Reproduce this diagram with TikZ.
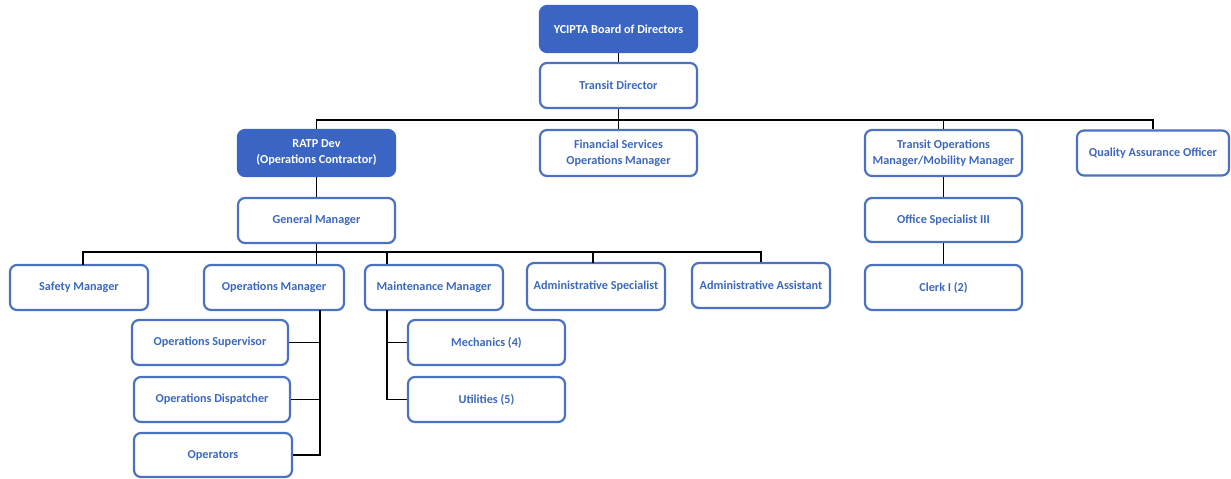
\documentclass[tikz,border=0pt]{standalone}
\usepackage{fontspec}
\setmainfont{Carlito}
\usepackage{xcolor}
\definecolor{boxblue}{HTML}{4A72C0}
\definecolor{headblue}{HTML}{3A65C3}
\definecolor{textblue}{HTML}{3C68BE}

\tikzset{
    unit/.style={draw=boxblue, line width=2.2pt, rounded corners=7pt, fill=white,
        text=textblue, font=\fontsize{12.2}{16}\selectfont\bfseries, align=center,
        inner sep=0pt},
    head/.style={unit, fill=headblue, draw=headblue, text=white},
    link/.style={line width=1.6pt, black}
}

\begin{document}
\begin{tikzpicture}[x=1pt, y=-1pt]
        \useasboundingbox (0,0) rectangle (1231,479);
        % top of the chart
        \node[head, minimum width=157, minimum height=46] (board) at (618.5,29) {YCIPTA Board of Directors};
        \node[unit, minimum width=157, minimum height=45] (director) at (618.5,85.5) {Transit Director};

        % second row
        \node[head, minimum width=157, minimum height=46] (ratp) at (316.5,153) {RATP Dev\\(Operations Contractor)};
        \node[unit, minimum width=157, minimum height=46] (finance) at (618.5,153) {Financial Services\\Operations Manager};
        \node[unit, minimum width=157, minimum height=46] (transitops) at (943.5,153) {Transit Operations\\Manager/Mobility Manager};
        \node[unit, minimum width=152, minimum height=45] (quality) at (1153,153) {Quality Assurance Officer};

        % contractor side
        \node[unit, minimum width=157, minimum height=45] (gm) at (316.5,220.5) {General Manager};
        \node[unit, minimum width=138, minimum height=45] (safety) at (79,287.5) {Safety Manager};
        \node[unit, minimum width=140, minimum height=45] (opsmgr) at (274,287.5) {Operations Manager};
        \node[unit, minimum width=138, minimum height=45] (maint) at (434,287.5) {Maintenance Manager};
        \node[unit, minimum width=138, minimum height=47] (adminspec) at (596,286.5) {Administrative Specialist};
        \node[unit, minimum width=138, minimum height=45] (adminasst) at (761,285.5) {Administrative Assistant};

        \node[unit, minimum width=156, minimum height=45] (supervisor) at (210,342.5) {Operations Supervisor};
        \node[unit, minimum width=156, minimum height=45] (dispatcher) at (212,399.5) {Operations Dispatcher};
        \node[unit, minimum width=158, minimum height=44] (operators) at (213,455) {Operators};
        \node[unit, minimum width=157, minimum height=45] (mechanics) at (486.5,342.5) {Mechanics (4)};
        \node[unit, minimum width=157, minimum height=45] (utilities) at (486.5,399.5) {Utilities (5)};

        % transit side
        \node[unit, minimum width=157, minimum height=44] (officespec) at (943.5,220) {Office Specialist III};
        \node[unit, minimum width=157, minimum height=45] (clerk) at (943.5,287.5) {Clerk I (2)};

        % bus lines
        \coordinate (bustop) at (618.5,120);
        \coordinate (busgm) at (316.5,252);
        \coordinate (safetydrop) at (83,265);
        \coordinate (specdrop) at (593,263);
        \coordinate (opsdrop) at (320,310);
        \coordinate (maintdrop) at (387,310);

        \draw[link] (board) -- (director);
        \draw[link] (director) -- (finance);
        \draw[link] (ratp.north) |- (bustop) -| (quality.north);
        \draw[link] (transitops.north) -- (transitops.north |- bustop);
        \draw[link] (ratp) -- (gm);
        \draw[link] (gm) -- (busgm);
        \draw[link] (safetydrop) |- (busgm) -| (adminasst.north);
        \draw[link] (busgm) -- (busgm |- opsmgr.north);
        \draw[link] (maintdrop |- maint.north) -- (maintdrop |- busgm);
        \draw[link] (specdrop) -- (specdrop |- busgm);
        \draw[link] (opsdrop) |- (operators.east);
        \draw[link] (supervisor.east) -- (supervisor.east -| opsdrop);
        \draw[link] (dispatcher.east) -- (dispatcher.east -| opsdrop);
        \draw[link] (maintdrop) |- (utilities.west);
        \draw[link] (mechanics.west) -- (mechanics.west -| maintdrop);
        \draw[link] (transitops) -- (officespec);
        \draw[link] (officespec) -- (clerk);
    \end{tikzpicture}
\end{document}
